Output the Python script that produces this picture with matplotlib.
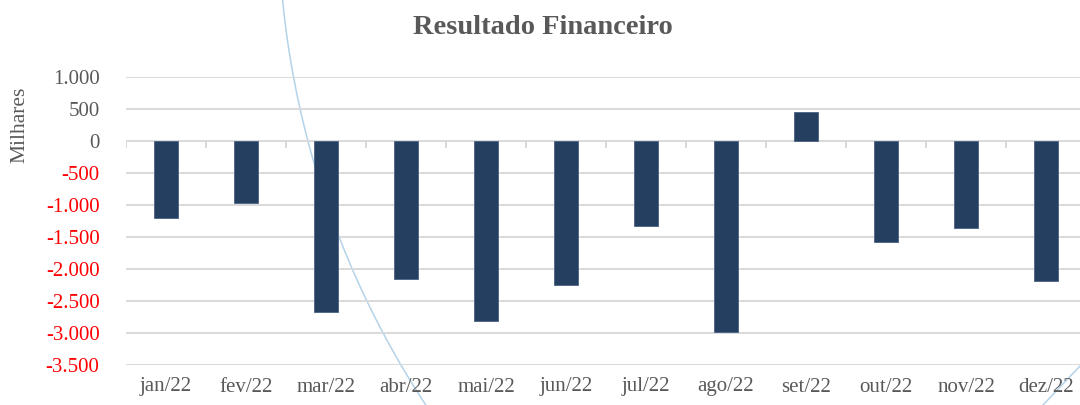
import numpy as np
import matplotlib
matplotlib.use("Agg")
import matplotlib.pyplot as plt
from matplotlib.patches import Arc
from matplotlib.ticker import FuncFormatter, MultipleLocator

# Resultado financeiro mensal (em milhares)
meses = ["jan/22", "fev/22", "mar/22", "abr/22", "mai/22", "jun/22",
         "jul/22", "ago/22", "set/22", "out/22", "nov/22", "dez/22"]
resultado = [-1208, -973, -2677, -2150, -2817, -2255,
             -1333, -2990, 453, -1578, -1354, -2187]

cor_barra = "#253F61"
cinza = "#595959"
grade = "#D9D9D9"

plt.rcParams["font.family"] = ["Liberation Serif", "DejaVu Serif"]

fig = plt.figure(figsize=(10.8, 4.05), dpi=100)
fig.patch.set_facecolor("white")

# fundo com o arco decorativo (fica atras das barras)
bg = fig.add_axes([0, 0, 1, 1], zorder=0)
bg.set_xlim(0, 1080)
bg.set_ylim(405, 0)
bg.axis("off")
bg.add_patch(Arc((1173.8, -87.3), 2 * 895.5, 2 * 895.5, theta1=100, theta2=185,
                 color="#B4D3E8", lw=1.1))
bg.plot([1043, 1080], [405, 366], color="#B4D3E8", lw=1.1)

ax = fig.add_axes([126 / 1080, 1 - 365 / 405, 960 / 1080, (365 - 77.3) / 405], zorder=1)
ax.patch.set_alpha(0)

x = np.arange(len(meses))
ax.bar(x, resultado, width=0.31, color=cor_barra, edgecolor="#4A6285", linewidth=0.6, zorder=3)

ax.set_xlim(-0.5, len(meses) - 0.5)
ax.set_ylim(-3500, 1000)
ax.yaxis.set_major_locator(MultipleLocator(500))
ax.yaxis.set_major_formatter(FuncFormatter(lambda v, p: f"{v:,.0f}".replace(",", ".")))
ax.grid(axis="y", color=grade, lw=1.4, zorder=0)
ax.set_axisbelow(True)

# marcas pequenas no eixo zero, entre categorias
ax.vlines(np.arange(len(meses) + 1) - 0.5, -105, 0, color=grade, lw=1.4, zorder=1)

for s in ax.spines.values():
    s.set_visible(False)

ax.set_xticks(x)
ax.set_xticklabels(meses)
ax.tick_params(axis="x", length=0, pad=9, labelsize=15, labelcolor=cinza)
ax.tick_params(axis="y", length=0, pad=19, labelsize=15)
for t, v in zip(ax.get_yticklabels(), ax.get_yticks()):
    t.set_color("#FF0000" if v < 0 else cinza)

fig.text(543 / 1080, 1 - 28 / 405, "Resultado Financeiro", ha="center", va="center",
         fontsize=20.5, fontweight="bold", color=cinza)
fig.text(20 / 1080, 1 - 125 / 405, "Milhares", rotation=90, ha="center", va="center",
         fontsize=15.5, color=cinza)

fig.savefig("out.png", dpi=100, facecolor="white")
